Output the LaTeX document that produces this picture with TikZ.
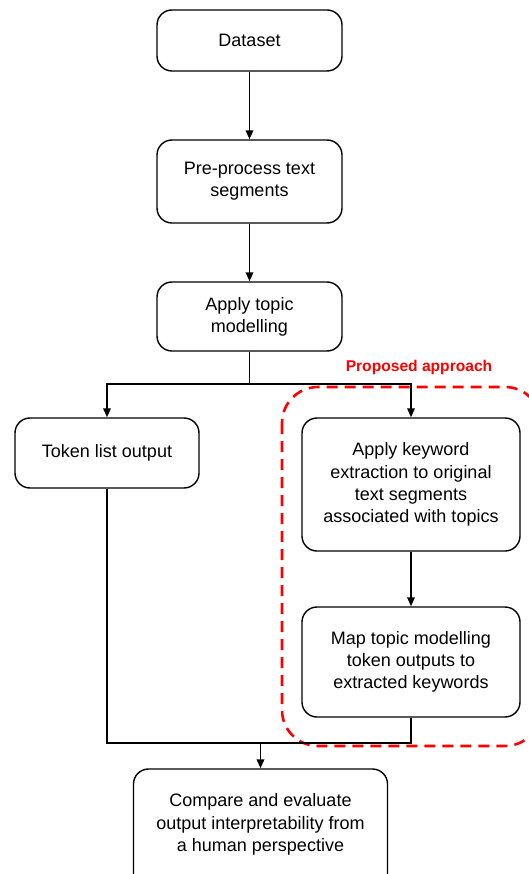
\documentclass[tikz,border=0pt]{standalone}
\usepackage{fontspec}
\setmainfont{Liberation Sans}
\usetikzlibrary{positioning}
\usetikzlibrary{arrows.meta}
\tikzset{
    stepbox/.style = {rectangle, rounded corners=15pt, draw=black, line width=1.4pt, align=center, inner sep=0pt, font=\fontsize{18}{22.3}\selectfont},
    edgen/.style = {-{Triangle[length=9pt,width=7.5pt]}, line width=1.8pt},
    edgel/.style = {line width=1.8pt},
    propbox/.style = {draw=red, line width=2.6pt, rounded corners=36pt, dash pattern=on 11pt off 7pt},
    proplabel/.style = {text=red, font=\bfseries\fontsize{15.6}{18}\selectfont},
}

\begin{document}
\begin{tikzpicture}[x=1pt,y=-1pt]
\useasboundingbox (0,0) rectangle (529,874);
%
\node[stepbox, minimum width=185pt, minimum height=61pt] at (249.5,40.5) (data) {Dataset};
\node[stepbox, minimum width=185pt, minimum height=83pt] at (249.5,181.5) (prep) {Pre-process text\\segments};
\node[stepbox, minimum width=185pt, minimum height=69pt] at (249.5,316.5) (topic) {Apply topic\\modelling};
\node[stepbox, minimum width=184pt, minimum height=70pt] at (107,453) (token) {Token list output};
\node[stepbox, minimum width=218pt, minimum height=133pt] at (411,484.5) (keyw) {Apply keyword\\extraction to original\\text segments\\associated with topics};
\node[stepbox, minimum width=218pt, minimum height=110pt] at (411,662) (mapk) {Map topic modelling\\token outputs to\\extracted keywords};
\node[stepbox, minimum width=254pt, minimum height=120pt] at (260.5,829) (comp) {};
\node[align=center, font=\fontsize{18}{22.3}\selectfont] at (260.5,824.5) (comptext) {Compare and evaluate\\output interpretability from\\a human perspective};
\node[proplabel] at (419,367) (prop) {Proposed approach};
%
\coordinate (split) at (249.5,384);
\coordinate (merge) at (260.5,743);
\draw[propbox] (282,387) rectangle (541,746);
\draw[edgen] (data) -- (prep);
\draw[edgen] (prep) -- (topic);
\draw[edgel] (topic) -- (split);
\draw[edgen] (split) -| (token);
\draw[edgen] (split) -| (keyw);
\draw[edgen] (keyw) -- (mapk);
\draw[edgel] (token) |- (merge);
\draw[edgel] (mapk) |- (merge);
\draw[edgen] (merge) -- (comp);
\end{tikzpicture}
\end{document}
